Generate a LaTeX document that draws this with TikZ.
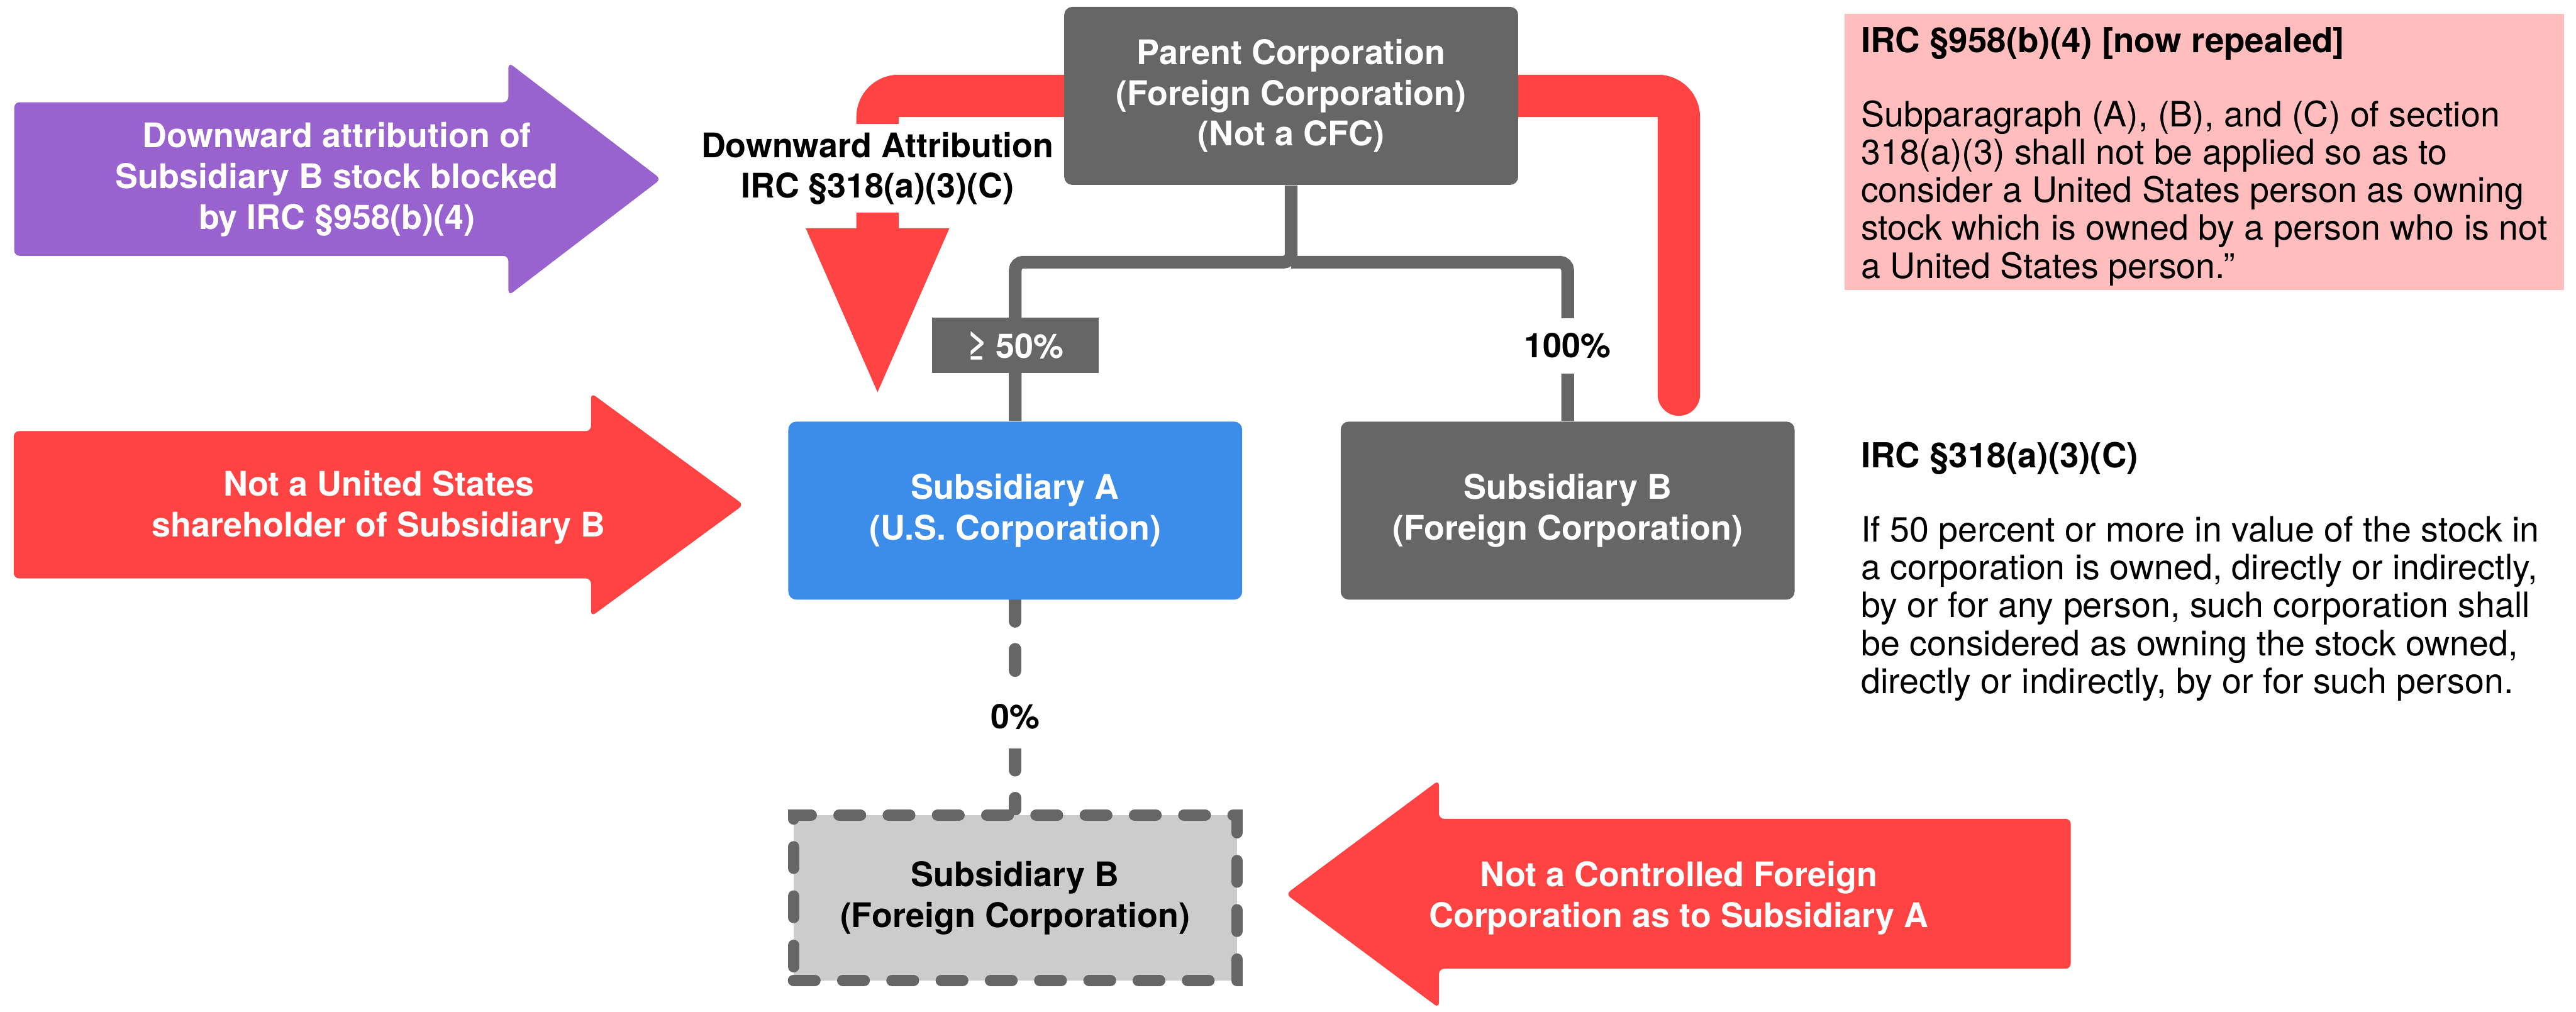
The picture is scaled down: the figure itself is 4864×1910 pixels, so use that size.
\documentclass[tikz,border=0pt]{standalone}
\usepackage{fontspec}
\setmainfont{TeX Gyre Heros}
\usetikzlibrary{backgrounds,arrows.meta}

\definecolor{boxgray}{HTML}{666666}
\definecolor{usblue}{HTML}{3C8DEA}
\definecolor{alertred}{HTML}{FF4343}
\definecolor{notepurple}{HTML}{9863CE}
\definecolor{notepink}{HTML}{FFBDBD}
\definecolor{shadegray}{HTML}{CCCCCC}

\newcommand\labelfont{\fontsize{12.8}{15.4}\selectfont\bfseries}
\newcommand\notefont{\fontsize{13.2}{14.3}\selectfont}
\newcommand\notetitle[1]{\rule{0pt}{12pt}{\fontsize{13}{14.3}\selectfont\bfseries #1}}

\begin{document}
\begin{tikzpicture}[x=0.2pt, y=-0.2pt,
  corp/.style={rectangle, rounded corners=3pt, minimum width=171.4pt,
    minimum height=67.2pt, align=center, text=white, font=\labelfont, inner sep=0pt},
  ghost/.style={corp, fill=shadegray, text=black, draw=boxgray, line width=4.4pt,
    dash pattern=on 8pt off 10.6pt, line cap=round, rounded corners=0pt,
    minimum width=167.4pt, minimum height=62.4pt},
  pct/.style={font=\labelfont, minimum height=21pt, inner sep=2pt},
  tree/.style={draw=boxgray, line width=4.8pt, rounded corners=3pt},
  zeroline/.style={draw=boxgray, line width=4.8pt, line cap=round,
    dash pattern=on 8pt off 10.6pt},
  bigarrow/.style={rounded corners=2pt},
  arrowtext/.style={text=white, font=\labelfont, align=center, inner sep=0pt},
  note/.style={anchor=north west, align=left, inner sep=0pt, font=\notefont}]

\useasboundingbox (0,0) rectangle (4864,1910);

% ownership chart
\node[corp, fill=boxgray] (parent) at (2438,181)
  {Parent Corporation\\(Foreign Corporation)\\(Not a CFC)};
\node[corp, fill=usblue] (subA) at (1917,964) {Subsidiary A\\(U.S. Corporation)};
\node[corp, fill=boxgray] (subB) at (2960,964) {Subsidiary B\\(Foreign Corporation)};
\node[ghost] (subBx) at (1917,1695) {Subsidiary B\\(Foreign Corporation)};

\node[pct, fill=boxgray, text=white, minimum width=63pt] (pctA) at (1917,652) {≥ 50\%};
\node[pct, fill=white] (pctB) at (2960,653) {100\%};
\node[pct, fill=white, minimum height=24pt] (pct0) at (1917,1353) {0\%};

\node[fill=white, font=\labelfont, align=center, inner sep=3pt] (attr) at (1657,318)
  {Downward Attribution\\IRC §318(a)(3)(C)};

\coordinate (fork) at (2438,495);
\coordinate (attrstart) at (3170,745);
\coordinate (attrtip) at (1657,754);

\begin{pgfonlayer}{background}
  % downward attribution path running behind the parent
  \draw[alertred, line width=16pt, line cap=round, rounded corners=8pt,
        -{Triangle[length=64.6pt,width=48.8pt]}]
    (attrstart) -- (attrstart |- parent.center) -- (attrtip |- parent.center) -- (attrtip);
  % ownership lines
  \draw[tree] (parent.south) -- (fork) -| (subA.north);
  \draw[tree] (fork) -| (subB.north);
  \draw[zeroline] (subA.south) -- (pct0.north);
  \draw[zeroline] (pct0.south) -- (subBx.north);
\end{pgfonlayer}

% explanatory arrows
\fill[notepurple, bigarrow] (27,193) -- (960,193) -- (960,118) -- (1248,338)
  -- (960,558) -- (960,483) -- (27,483) -- cycle;
\node[arrowtext] (purplenote) at (636,339)
  {Downward attribution of\\Subsidiary B stock blocked\\by IRC §958(b)(4)};

\fill[alertred, bigarrow] (26,814) -- (1116,814) -- (1116,742) -- (1404,953)
  -- (1116,1164) -- (1116,1092) -- (26,1092) -- cycle;
\node[arrowtext] (usnote) at (715,958)
  {Not a United States\\shareholder of Subsidiary B};

\fill[alertred, bigarrow] (3910,1546) -- (2717,1546) -- (2717,1473) -- (2428,1688)
  -- (2717,1903) -- (2717,1829) -- (3910,1829) -- cycle;
\node[arrowtext] (cfcnote) at (3170,1696)
  {Not a Controlled Foreign\\Corporation as to Subsidiary A};

% statutory notes
\node[fill=notepink, anchor=north west, minimum width=271.6pt, minimum height=104.2pt,
      inner sep=0pt] (pinkbox) at (3482,25) {};
\node[note] (repealnote) at (3513,38)
  {\notetitle{IRC §958(b)(4) [now repealed]}\\[13.7pt]
   Subparagraph (A), (B), and (C) of section\\
   318(a)(3) shall not be applied so as to\\
   consider a United States person as owning\\
   stock which is owned by a person who is not\\
   a United States person.”};

\node[note] (attrnote) at (3513,822)
  {\notetitle{IRC §318(a)(3)(C)}\\[13.7pt]
   If 50 percent or more in value of the stock in\\
   a corporation is owned, directly or indirectly,\\
   by or for any person, such corporation shall\\
   be considered as owning the stock owned,\\
   directly or indirectly, by or for such person.};

\end{tikzpicture}
\end{document}
